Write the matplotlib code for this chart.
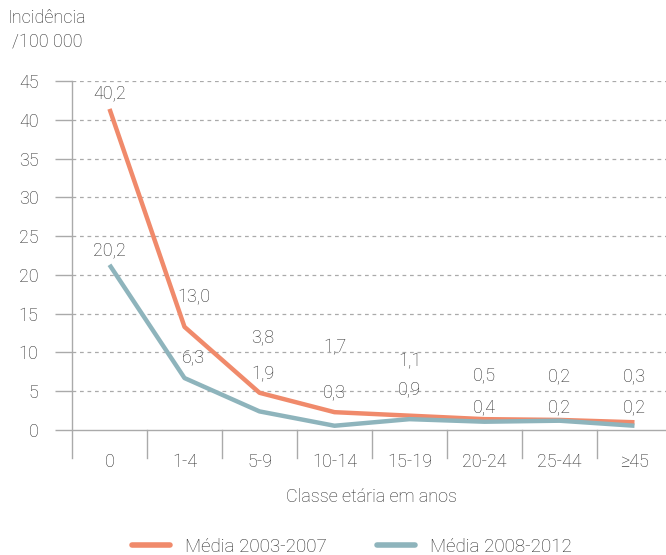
import matplotlib
matplotlib.use("Agg")
import matplotlib.pyplot as plt
from matplotlib.lines import Line2D

# ── Data ──────────────────────────────────────────────────────────────────────
categories = ["0", "1-4", "5-9", "10-14", "15-19", "20-24", "25-44", "≥45"]
media_2003_2007 = [41.4, 13.3, 4.8, 2.3, 1.85, 1.4, 1.3, 1.0]
media_2008_2012 = [21.3, 6.7, 2.4, 0.55, 1.4, 1.07, 1.2, 0.55]
labels_2003_2007 = ["40,2", "13,0", "3,8", "1,7", "1,1", "0,5", "0,2", "0,3"]
labels_2008_2012 = ["20,2", "6,3", "1,9", "0,3", "0,9", "0,4", "0,2", "0,2"]
y_ticks = [0, 5, 10, 15, 20, 25, 30, 35, 40, 45]

# ── Layout ────────────────────────────────────────────────────────────────────
label_y_2003 = [43.4, 17.1, 12.0, 10.7, 8.9, 7.1, 6.9, 6.9]
label_y_2008 = [23.2, 9.4, 7.2, 4.9, 5.2, 2.9, 2.9, 2.9]
label_dx = [0, 0.12, 0.04, 0.0, 0.0, 0.0, 0.0, 0.0]

ORANGE = "#F08A6B"
TEAL = "#8EB4BC"
TXT = "#2a2a2a"
GRID = "#AAAAAA"
AXC = "#AAAAAA"
FS = 13
PX = 7.76  # pixels per unit on y

plt.rcParams["font.family"] = ["Roboto", "DejaVu Sans"]
plt.rcParams["font.weight"] = "light"

fig = plt.figure(figsize=(6.66, 5.55), dpi=100)
ax = fig.add_axes([72 / 666, (555 - 458) / 555, 600 / 666, (458 - 81) / 555])

x = range(len(categories))
ax.plot(x, media_2003_2007, color=ORANGE, lw=3.2, solid_capstyle="butt", zorder=3)
ax.plot(x, media_2008_2012, color=TEAL, lw=3.2, solid_capstyle="butt", zorder=3)

for i in x:
    ax.text(i + label_dx[i], label_y_2003[i], labels_2003_2007[i], ha="center",
            va="center", fontsize=FS, color=TXT)
    ax.text(i + label_dx[i], label_y_2008[i], labels_2008_2012[i], ha="center",
            va="center", fontsize=FS, color=TXT)

ax.set_xlim(-0.5, len(categories) - 0.5)
ax.set_ylim(-28 / PX, 45)

# grid + baseline
for yv in y_ticks[1:]:
    ax.axhline(yv, color=GRID, lw=0.9, ls=(0, (3, 3)), zorder=1)
ax.axhline(0, color=AXC, lw=1.0, zorder=2)

# category separators below baseline
for i in range(1, len(categories)):
    ax.plot([i - 0.5, i - 0.5], [-28 / PX, 0], color=AXC, lw=1.0,
            clip_on=False, zorder=2)

for s in ["top", "right", "bottom"]:
    ax.spines[s].set_visible(False)
ax.spines["left"].set_color(AXC)
ax.spines["left"].set_linewidth(1.0)

ax.set_yticks(y_ticks)
ax.set_yticklabels([str(v) for v in y_ticks])
ax.tick_params(axis="y", length=12, width=1.0, color=AXC, labelcolor=TXT,
               labelsize=FS, pad=12)
ax.set_xticks([])
for i, c in enumerate(categories):
    ax.text(i, -32 / PX, c, ha="center", va="center", fontsize=FS, color=TXT)

fig.text(372 / 666, 1 - 497 / 555, "Classe etária em anos", ha="center",
         va="center", fontsize=FS, color=TXT)
fig.text(8 / 666, 1 - 18 / 555, "Incidência", ha="left", va="center",
         fontsize=FS, color=TXT)
fig.text(12 / 666, 1 - 42 / 555, "/100 000", ha="left", va="center",
         fontsize=FS, color=TXT)

handles = [Line2D([], [], color=ORANGE, lw=4, solid_capstyle="round"),
           Line2D([], [], color=TEAL, lw=4, solid_capstyle="round")]
fig.legend(handles, ["Média 2003-2007", "Média 2008-2012"], ncol=2,
           loc="center", bbox_to_anchor=(352 / 666, 1 - 547 / 555),
           frameon=False, fontsize=13.5, handlelength=2.0, handletextpad=0.8,
           columnspacing=2.7, labelcolor=TXT, borderpad=0)

fig.savefig("out.png", dpi=100)
